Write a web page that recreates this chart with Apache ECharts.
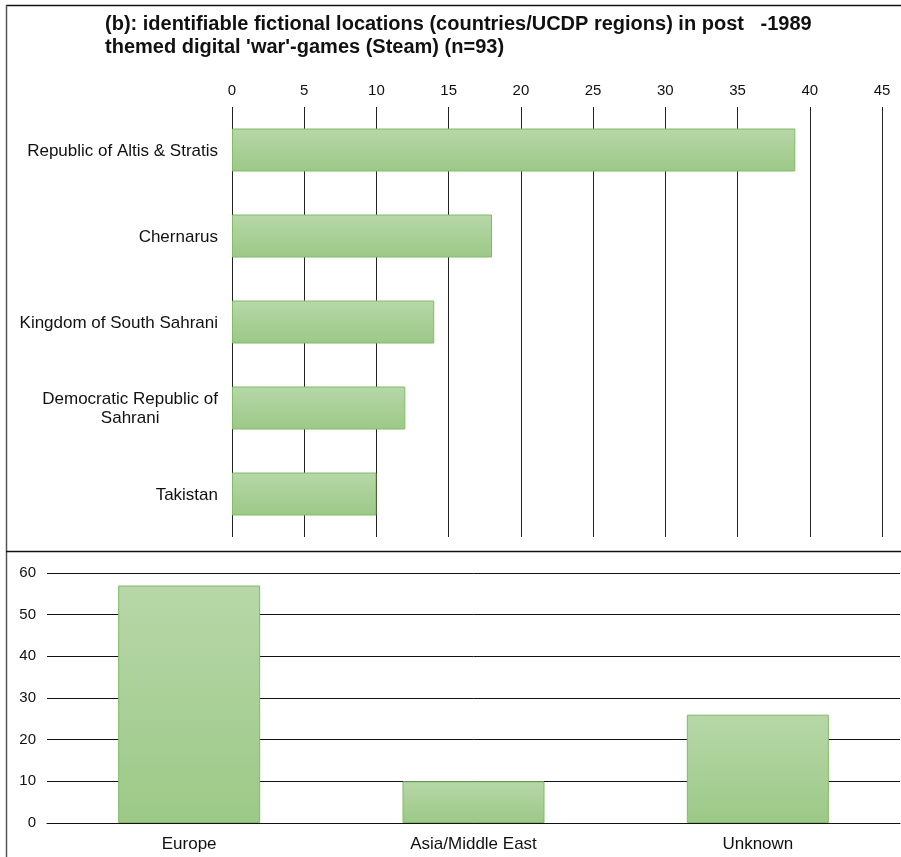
<!DOCTYPE html>
<html>
<head>
<meta charset="utf-8">
<script src="https://cdn.jsdelivr.net/npm/echarts@6/dist/echarts.min.js"></script>
<style>
html,body{margin:0;padding:0;background:#fff;}
#c{width:901px;height:857px;}
</style>
</head>
<body>
<div id="c"></div>
<script>
const locations = ["Republic of Altis & Stratis", "Chernarus", "Kingdom of South Sahrani", "Democratic Republic of\nSahrani", "Takistan"];
const locationCounts = [39, 18, 14, 12, 10];
const regions = ["Europe", "Asia/Middle East", "Unknown"];
const regionCounts = [57, 10, 26];
const titleLines = ["(b): identifiable fictional locations (countries/UCDP regions) in post   -1989", "themed digital 'war'-games (Steam) (n=93)"];

const FONT = '"Liberation Sans", Arial, sans-serif';
const barGrad = () => new echarts.graphic.LinearGradient(0, 0, 0, 1, [
  {offset: 0, color: '#b7d7a8'},
  {offset: 1, color: '#9cc987'}
]);
const chart = echarts.init(document.getElementById('c'));
chart.setOption({
  animation: false,
  backgroundColor: '#fff',
  textStyle: {fontFamily: FONT},
  title: {
    text: titleLines.join('\n'),
    left: 100, top: 8,
    textStyle: {fontFamily: FONT, fontSize: 20, fontWeight: 'bold', color: '#111', lineHeight: 23}
  },
  graphic: [
    {type: 'line', shape: {x1: 6, y1: 5.5, x2: 901, y2: 5.5}, style: {stroke: '#111', lineWidth: 1.5}},
    {type: 'line', shape: {x1: 6.5, y1: 5, x2: 6.5, y2: 857}, style: {stroke: '#555', lineWidth: 1.5}},
    {type: 'line', shape: {x1: 6, y1: 551.5, x2: 901, y2: 551.5}, style: {stroke: '#111', lineWidth: 1.5}}
  ],
  grid: [
    {left: 232, top: 107, width: 650, height: 430},
    {left: 47, top: 573, width: 853, height: 250}
  ],
  xAxis: [
    {
      type: 'value', gridIndex: 0, position: 'top', min: 0, max: 45, interval: 5,
      axisLine: {show: false}, axisTick: {show: false},
      splitLine: {show: true, lineStyle: {color: '#222', width: 1}},
      axisLabel: {fontSize: 15, color: '#111', margin: 9, fontFamily: FONT}
    },
    {
      type: 'category', gridIndex: 1, data: regions,
      axisLine: {show: true, lineStyle: {color: '#111', width: 1}},
      axisTick: {show: false},
      axisLabel: {fontSize: 17, color: '#111', margin: 13, fontFamily: FONT}
    }
  ],
  yAxis: [
    {
      type: 'category', gridIndex: 0, data: locations, inverse: true,
      axisLine: {show: false}, axisTick: {show: false}, splitLine: {show: false},
      axisLabel: {
        fontSize: 17, color: '#111', margin: 14, fontFamily: FONT,
        formatter: v => '{a|' + v + '}',
        rich: {a: {align: 'center', fontSize: 17, lineHeight: 19, color: '#111', fontFamily: FONT, padding: [2, 0, 0, 0]}}
      }
    },
    {
      type: 'value', gridIndex: 1, min: 0, max: 60, interval: 10,
      axisLine: {show: false}, axisTick: {show: false},
      splitLine: {show: true, lineStyle: {color: '#111', width: 1}},
      axisLabel: {fontSize: 15, color: '#111', margin: 11, fontFamily: FONT}
    }
  ],
  series: [
    {
      type: 'bar', xAxisIndex: 0, yAxisIndex: 0, data: locationCounts,
      barWidth: 43,
      itemStyle: {color: barGrad(), borderColor: '#80bb66', borderWidth: 1}
    },
    {
      type: 'bar', xAxisIndex: 1, yAxisIndex: 1, data: regionCounts,
      barWidth: 142,
      itemStyle: {color: barGrad(), borderColor: '#80bb66', borderWidth: 1}
    }
  ]
});
</script>
</body>
</html>
